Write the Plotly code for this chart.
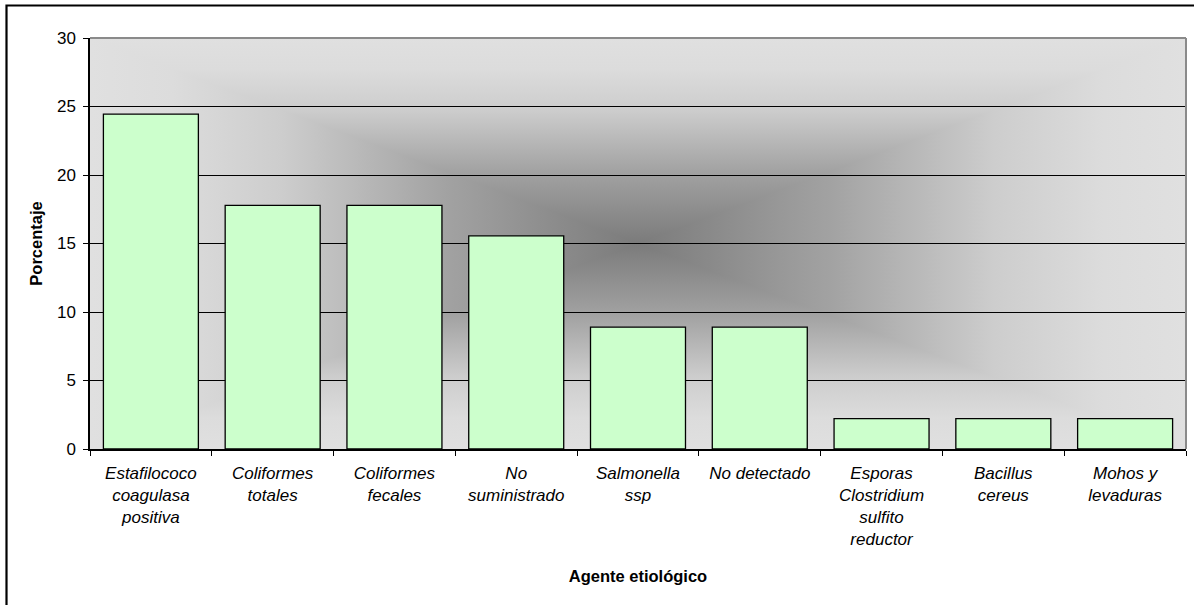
import base64
import plotly.graph_objects as go

categories = [
    "Estafilococo<br>coagulasa<br>positiva",
    "Coliformes<br>totales",
    "Coliformes<br>fecales",
    "No<br>suministrado",
    "Salmonella<br>ssp",
    "No detectado",
    "Esporas<br>Clostridium<br>sulfito<br>reductor",
    "Bacillus<br>cereus",
    "Mohos y<br>levaduras",
]
porcentaje = [24.44, 17.78, 17.78, 15.56, 8.89, 8.89, 2.22, 2.22, 2.22]
y_ticks = [0, 5, 10, 15, 20, 25, 30]

FONT = "Liberation Sans, Arial, sans-serif"

# Rectangular "from centre" grey gradient for the plot area background
stops = [(0.0, "#e0e0e0"), (0.15, "#dcdcdc"), (0.35, "#cdcdcd"), (0.65, "#a2a2a2"), (1.0, "#7b7b7b")]
def stop_list(mirror=False):
    out = []
    for o, c in stops:
        out.append((o / 2 if not mirror else 1 - o / 2, c))
    return out
def grad(gid, x1, y1, x2, y2, st):
    s = "".join(f'<stop offset="{o:.4f}" stop-color="{c}"/>' for o, c in st)
    return (f'<linearGradient id="{gid}" gradientUnits="userSpaceOnUse" '
            f'x1="{x1}" y1="{y1}" x2="{x2}" y2="{y2}">{s}</linearGradient>')
full = stop_list() + sorted(stop_list(True))
svg = (
    '<svg xmlns="http://www.w3.org/2000/svg" width="1000" height="1000" '
    'viewBox="0 0 1000 1000" preserveAspectRatio="none"><defs>'
    + grad("h", 0, 0, 1000, 0, full) + grad("v", 0, 0, 0, 1000, full)
    + '</defs><rect x="-2" y="-2" width="1004" height="1004" fill="url(#h)"/>'
    '<polygon points="-2,-2 1002,-2 500,500" fill="url(#v)"/>'
    '<polygon points="-2,1002 1002,1002 500,500" fill="url(#v)"/>'
    '</svg>'
)
svg_uri = "data:image/svg+xml;base64," + base64.b64encode(svg.encode()).decode()

fig = go.Figure()
fig.add_trace(go.Bar(
    x=categories, y=porcentaje,
    marker=dict(color="#ccffcc", line=dict(color="#000000", width=1.3)),
    hoverinfo="x+y",
))

fig.update_layout(
    width=1194, height=605,
    margin=dict(l=90, r=8, t=38, b=156),
    paper_bgcolor="#ffffff",
    plot_bgcolor="#b0b0b0",
    bargap=0.22,
    showlegend=False,
    font=dict(family=FONT, color="#000000", size=16),
    images=[dict(source=svg_uri, xref="x domain", yref="y domain", x=0, y=1,
                 sizex=1, sizey=1, sizing="stretch", xanchor="left", yanchor="top",
                 layer="below")],
    xaxis=dict(
        showline=True, linecolor="#000000", linewidth=1.5,
        ticks="outside", ticklen=5, tickcolor="#000000", tickwidth=1.2,
        tickson="boundaries", showgrid=False,
        ticklabelstandoff=8,
        tickfont=dict(family=FONT, size=17, style="italic"),
        title=dict(text="<b>Agente etiológico</b>", font=dict(family=FONT, size=16.5), standoff=22),
        tickangle=0,
    ),
    yaxis=dict(
        range=[0, 30], tickvals=y_ticks, ticktext=[str(v) for v in y_ticks],
        showline=True, linecolor="#000000", linewidth=1.5,
        ticks="outside", ticklen=5, tickcolor="#000000", tickwidth=1.2,
        showgrid=True, gridcolor="#000000", gridwidth=1.2, zeroline=False,
        ticklabelstandoff=4,
        tickfont=dict(family=FONT, size=17),
        title=dict(text="<b>Porcentaje</b>", font=dict(family=FONT, size=16.5), standoff=10),
    ),
    shapes=[
        # plot-area border (grey) top and right
        dict(type="line", xref="x domain", yref="y domain", x0=0, x1=1, y0=1, y1=1,
             line=dict(color="#8a8a8a", width=2), layer="above"),
        dict(type="line", xref="x domain", yref="y domain", x0=1, x1=1, y0=0, y1=1,
             line=dict(color="#8a8a8a", width=2), layer="above"),
        # outer chart frame
        dict(type="rect", xref="paper", yref="paper",
             x0=(6.5 - 90) / 1096, x1=(1210 - 90) / 1096,
             y0=-(620 - 449) / 411, y1=1 + (38 - 5.5) / 411,
             line=dict(color="#000000", width=2.2), fillcolor="rgba(0,0,0,0)", layer="above"),
    ],
)

fig.write_html("out.html")
